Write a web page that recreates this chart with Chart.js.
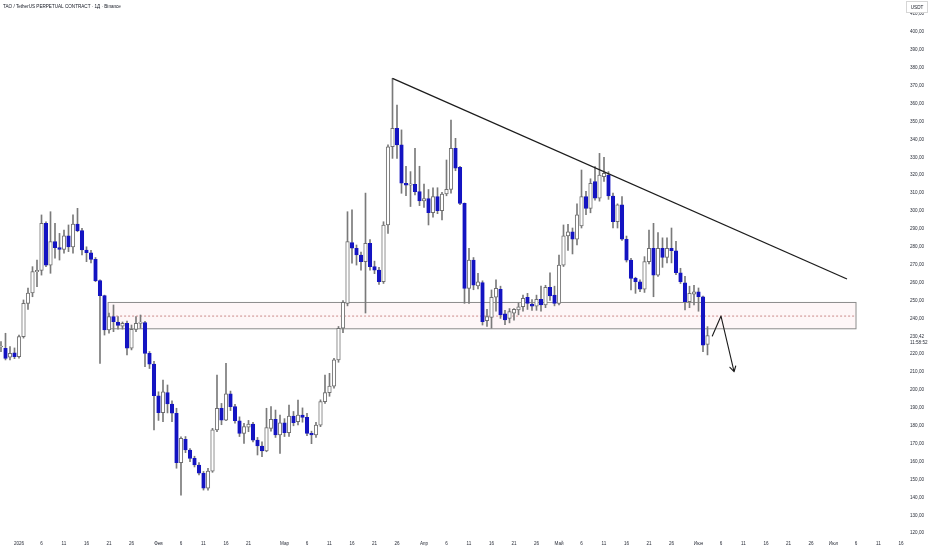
<!DOCTYPE html>
<html>
<head>
<meta charset="utf-8">
<script src="https://cdn.jsdelivr.net/npm/chart.js@4.4.1/dist/chart.umd.min.js"></script>
<style>
  html, body { margin: 0; padding: 0; background: #fff; }
  #wrap { width: 932px; height: 550px; position: relative; }
</style>
</head>
<body>
<div id="wrap"><canvas id="myChart"></canvas></div>
<script>
// day offset from 1 Jan 2026, daily candles
const days = [
  -4, -3, -2, -1, 0, 1, 2, 3, 4, 5, 6, 7, 8, 9, 10, 11, 12, 13, 14, 15,
  16, 17, 18, 19, 20, 21, 22, 23, 24, 25, 26, 27, 28, 29, 30, 31, 32, 33, 34, 35,
  36, 37, 38, 39, 40, 41, 42, 43, 44, 45, 46, 47, 48, 49, 50, 51, 52, 53, 54, 55,
  56, 57, 58, 59, 60, 61, 62, 63, 64, 65, 66, 67, 68, 69, 70, 71, 72, 73, 74, 75,
  76, 77, 78, 79, 80, 81, 82, 83, 84, 85, 86, 87, 88, 89, 90, 91, 92, 93, 94, 95,
  96, 97, 98, 99, 100, 101, 102, 103, 104, 105, 106, 107, 108, 109, 110, 111, 112, 113, 114, 115,
  116, 117, 118, 119, 120, 121, 122, 123, 124, 125, 126, 127, 128, 129, 130, 131, 132, 133, 134, 135,
  136, 137, 138, 139, 140, 141, 142, 143, 144, 145, 146, 147, 148, 149, 150, 151, 152, 153
];
const opens = [
  224.0, 223.3, 218.3, 220.8, 218.6, 229.8, 248.4, 254.2, 266.1, 266.8, 293.1, 269.8, 282.9, 279.5, 278.6, 286.1, 280.0, 292.7, 289.0, 278.2,
  276.7, 273.0, 261.1, 252.7, 233.5, 241.0, 237.9, 235.7, 237.2, 223.3, 233.9, 237.2, 237.6, 220.5, 214.5, 196.8, 187.3, 198.5, 192.2, 187.0,
  159.4, 172.5, 166.5, 161.8, 158.1, 153.5, 145.1, 154.7, 177.7, 189.8, 183.2, 197.8, 190.7, 182.8, 175.8, 179.2, 181.0, 172.0, 168.7, 166.0,
  178.6, 183.6, 174.9, 181.7, 176.1, 185.5, 182.3, 186.0, 184.7, 175.8, 174.9, 180.4, 193.5, 198.5, 202.2, 216.8, 234.5, 248.4, 282.3, 279.2,
  275.4, 271.7, 282.0, 268.9, 267.0, 260.5, 292.2, 335.9, 346.2, 336.9, 315.5, 314.5, 314.9, 310.8, 305.6, 307.0, 299.0, 308.0, 300.2, 309.5,
  312.1, 335.0, 324.4, 304.3, 256.8, 272.6, 258.1, 260.0, 238.7, 240.6, 251.8, 256.3, 242.5, 240.0, 242.9, 244.7, 246.5, 251.8, 248.0, 246.9,
  250.7, 247.5, 257.4, 253.0, 248.4, 269.8, 286.1, 288.4, 284.2, 291.6, 308.0, 301.5, 316.4, 307.1, 319.2, 320.1, 308.4, 294.0, 303.4, 284.2,
  272.6, 262.4, 260.5, 256.3, 271.7, 279.2, 264.2, 279.2, 274.1, 279.2, 277.8, 265.5, 259.9, 249.3, 253.6, 254.9, 252.1, 225.5
];
const highs = [
  227.0, 231.7, 224.2, 223.5, 230.7, 250.3, 257.0, 268.9, 272.6, 297.8, 294.0, 299.6, 293.1, 287.5, 289.4, 292.2, 297.8, 301.5, 290.3, 280.0,
  278.0, 274.0, 261.5, 253.0, 243.0, 247.5, 241.0, 238.0, 238.5, 236.3, 241.0, 241.9, 238.3, 221.5, 216.0, 199.0, 205.6, 202.8, 194.0, 189.8,
  173.9, 174.0, 167.3, 163.0, 159.5, 154.5, 156.3, 178.6, 208.4, 192.5, 214.9, 199.4, 192.0, 185.0, 181.4, 183.0, 182.0, 173.5, 171.0, 189.8,
  190.7, 188.8, 186.0, 184.0, 191.6, 188.0, 194.4, 190.0, 187.0, 177.0, 182.0, 194.5, 208.4, 209.3, 217.7, 235.5, 250.0, 299.6, 300.6, 281.0,
  277.0, 310.0, 284.0, 272.0, 268.5, 294.0, 336.9, 374.1, 359.2, 345.3, 325.0, 322.0, 335.0, 325.0, 315.0, 312.0, 313.0, 313.0, 310.5, 328.5,
  350.8, 340.6, 325.0, 304.5, 279.2, 274.0, 265.2, 261.0, 245.0, 255.9, 261.5, 258.0, 244.5, 245.5, 245.5, 248.6, 253.0, 254.0, 250.5, 253.0,
  258.0, 258.5, 265.5, 258.0, 275.4, 292.2, 292.5, 290.5, 304.0, 322.9, 311.0, 318.0, 324.8, 332.2, 330.0, 322.0, 310.0, 304.0, 308.0, 286.0,
  273.5, 263.0, 261.5, 274.5, 289.4, 293.1, 288.0, 285.0, 285.0, 290.5, 283.0, 268.0, 263.5, 258.0, 258.5, 257.0, 252.5, 235.4
];
const lows = [
  221.4, 216.8, 216.8, 217.5, 217.8, 229.0, 245.0, 252.1, 257.7, 264.2, 268.9, 265.2, 273.6, 272.6, 276.4, 277.3, 276.4, 288.4, 275.4, 271.7,
  271.0, 260.5, 214.9, 230.7, 231.8, 232.6, 234.0, 234.0, 219.6, 222.4, 232.6, 234.5, 213.0, 212.0, 177.7, 183.0, 182.3, 187.2, 182.3, 156.3,
  141.3, 165.0, 160.0, 157.0, 152.5, 144.1, 144.1, 154.0, 176.7, 180.6, 182.8, 188.5, 181.5, 174.0, 170.2, 176.7, 171.0, 163.7, 162.7, 165.5,
  177.0, 173.5, 164.6, 174.0, 174.0, 180.0, 180.5, 182.0, 174.5, 170.0, 173.5, 179.5, 192.5, 196.5, 201.0, 215.5, 232.0, 247.0, 270.8, 269.8,
  267.0, 243.0, 267.0, 265.0, 259.0, 259.5, 287.5, 329.4, 329.4, 309.9, 308.5, 302.5, 309.0, 303.0, 302.0, 292.2, 296.5, 298.5, 295.0, 308.5,
  310.0, 322.5, 303.5, 248.4, 248.4, 256.0, 256.5, 236.3, 235.5, 234.5, 244.0, 240.0, 236.5, 237.5, 239.0, 242.0, 244.0, 245.0, 244.5, 244.5,
  244.0, 246.0, 250.0, 247.0, 247.5, 269.0, 278.0, 276.0, 281.0, 290.5, 298.0, 299.0, 306.0, 305.5, 316.5, 306.5, 290.5, 290.5, 283.5, 271.5,
  255.9, 254.0, 255.0, 254.5, 270.5, 252.1, 263.5, 268.5, 271.0, 271.0, 264.5, 259.5, 244.7, 246.0, 247.5, 244.0, 221.4, 219.6
];
const closes = [
  224.4, 217.7, 220.5, 218.6, 229.8, 248.4, 254.2, 266.1, 266.8, 293.1, 269.8, 282.9, 279.5, 278.6, 286.1, 280.0, 292.7, 289.0, 278.2, 276.7,
  273.0, 261.1, 252.7, 233.5, 241.0, 238.2, 236.1, 237.2, 223.3, 233.9, 237.2, 238.0, 220.5, 214.5, 196.8, 187.3, 199.0, 192.2, 187.0, 159.4,
  173.0, 166.5, 161.8, 158.1, 153.5, 145.1, 154.7, 177.7, 189.8, 183.2, 197.8, 190.7, 182.8, 175.8, 179.5, 181.0, 172.0, 168.7, 166.0, 179.0,
  183.6, 174.9, 181.7, 176.1, 185.5, 181.7, 186.0, 184.7, 175.8, 174.9, 180.4, 193.5, 198.5, 202.2, 216.8, 234.5, 249.0, 282.9, 279.2, 275.4,
  271.7, 282.0, 268.9, 267.0, 260.5, 292.2, 335.9, 346.2, 336.9, 315.5, 314.5, 315.2, 310.8, 305.6, 307.0, 299.0, 308.0, 300.2, 309.5, 312.1,
  335.0, 323.9, 304.3, 256.8, 272.6, 258.6, 260.5, 238.2, 241.0, 251.8, 256.8, 241.9, 239.1, 243.8, 245.0, 246.5, 251.2, 248.4, 246.9, 250.7,
  247.5, 257.4, 252.5, 248.4, 269.8, 286.1, 288.4, 284.2, 297.8, 308.0, 301.5, 315.5, 307.1, 320.1, 321.0, 308.4, 294.0, 303.4, 284.2, 272.6,
  262.4, 260.5, 256.3, 271.7, 279.2, 264.2, 279.2, 274.1, 279.2, 277.8, 265.5, 260.5, 249.3, 254.0, 254.9, 252.1, 225.1, 230.42
];

const lastPrice = 230.42;
const lastTimer = '11:58:52';

// axis ticks
const xTickDays = [0, 5, 10, 15, 20, 25, 31, 36, 41, 46, 51, 59, 64, 69, 74, 79, 84, 90, 95, 100, 105, 110, 115,
  120, 125, 130, 135, 140, 145, 151, 156, 161, 166, 171, 176, 181, 186, 191, 196];
const xTickLabels = ['2026', '6', '11', '16', '21', '26', 'Фев', '6', '11', '16', '21', 'Мар', '6', '11', '16', '21', '26',
  'Апр', '6', '11', '16', '21', '26', 'Май', '6', '11', '16', '21', '26', 'Июн', '6', '11', '16', '21', '26',
  'Июл', '6', '11', '16'];
const yTicks = [120, 130, 140, 150, 160, 170, 180, 190, 200, 210, 220, 230, 240, 250, 260,
  270, 280, 290, 300, 310, 320, 330, 340, 350, 360, 370, 380, 390, 400, 410];

// drawings
const trendDays = [83, 184];
const trendPrices = [374.1, 262.0];
const arrowDays = [154.07, 156, 158.9, 157.98, 158.9, 159.27];
const arrowPrices = [230.2, 241.3, 210.2, 212.7, 210.2, 213.4];
const zoneDays = [19.8, 186];
const zonePrices = [234.2, 241.3, 248.9]; // bottom, mid, top

const BLUE = '#1414c2';
const FONT = 'Liberation Sans';
const fmt = v => v.toFixed(2).replace('.', ',');

const overlay = {
  id: 'overlay',
  beforeDatasetsDraw(chart) {
    const ctx = chart.ctx, xs = chart.scales.x, ys = chart.scales.y;
    const x0 = xs.getPixelForValue(zoneDays[0]), x1 = xs.getPixelForValue(zoneDays[1]);
    const yb = ys.getPixelForValue(zonePrices[0]), ym = ys.getPixelForValue(zonePrices[1]), yt = ys.getPixelForValue(zonePrices[2]);
    ctx.save();
    ctx.fillStyle = 'rgba(242, 54, 69, 0.045)';
    ctx.fillRect(x0, yt, x1 - x0, yb - yt);
    ctx.strokeStyle = '#8c8c8c';
    ctx.lineWidth = 1;
    ctx.strokeRect(x0, yt, x1 - x0, yb - yt);
    ctx.setLineDash([2, 2]);
    ctx.strokeStyle = 'rgba(190, 110, 110, 0.8)';
    ctx.beginPath();
    ctx.moveTo(x0, ym);
    ctx.lineTo(x1, ym);
    ctx.stroke();
    ctx.restore();
  },
  afterDraw(chart) {
    const ctx = chart.ctx, ys = chart.scales.y;
    ctx.save();
    ctx.font = '4.6px "' + FONT + '"';
    ctx.fillStyle = '#131722';
    ctx.textBaseline = 'middle';
    ctx.fillText('TAO / TetherUS PERPETUAL CONTRACT · 1Д · Binance', 3, 7);
    // currency box
    ctx.fillStyle = '#fff';
    ctx.fillRect(906, 1, 22, 12);
    ctx.strokeStyle = '#d6d6d6';
    ctx.strokeRect(906.5, 1.5, 21, 11);
    ctx.fillStyle = '#131722';
    ctx.textAlign = 'center';
    ctx.fillText('USDT', 917, 7.5);
    // last price label
    const yp = ys.getPixelForValue(lastPrice);
    ctx.textAlign = 'left';
    ctx.fillStyle = '#2a2e39';
    ctx.fillText(fmt(lastPrice), 910, yp + 1);
    ctx.fillText(lastTimer, 910, yp + 7.5);
    ctx.restore();
  }
};

const ctx = document.getElementById('myChart');

new Chart(ctx, {
  type: 'bar',
  data: {
    datasets: [
      {
        type: 'line',
        data: trendDays.map((d, i) => ({x: d, y: trendPrices[i]})),
        borderColor: '#1c1c1c',
        borderWidth: 1.3,
        pointRadius: 0,
        order: 0
      },
      {
        type: 'line',
        data: arrowDays.map((d, i) => ({x: d, y: arrowPrices[i]})),
        borderColor: '#1c1c1c',
        borderWidth: 1.1,
        borderJoinStyle: 'round',
        borderCapStyle: 'round',
        pointRadius: 0,
        order: 0
      },
      {
        label: 'body',
        data: days.map((d, i) => ({x: d, y: [opens[i], closes[i]]})),
        backgroundColor: c => closes[c.dataIndex] < opens[c.dataIndex] ? BLUE : '#ffffff',
        borderColor: c => closes[c.dataIndex] < opens[c.dataIndex] ? BLUE : '#707070',
        borderWidth: 1,
        borderSkipped: false,
        barThickness: 3.6,
        minBarLength: 1,
        grouped: false,
        order: 1
      },
      {
        label: 'wick',
        data: days.map((d, i) => ({x: d, y: [lows[i], highs[i]]})),
        backgroundColor: '#7a7a7a',
        borderWidth: 0,
        barThickness: 1,
        grouped: false,
        order: 2
      }
    ]
  },
  options: {
    responsive: true,
    maintainAspectRatio: false,
    animation: false,
    layout: { padding: 0 },
    plugins: {
      legend: { display: false },
      tooltip: { enabled: false },
      title: { display: false }
    },
    scales: {
      x: {
        type: 'linear',
        min: -19 / 4.5,
        max: (903 - 19) / 4.5,
        offset: false,
        grid: { display: false, drawTicks: false },
        border: { display: false },
        ticks: {
          autoSkip: false,
          maxRotation: 0,
          padding: 5,
          color: '#2a2e39',
          font: { family: FONT, size: 4.6 },
          callback: (v, i) => xTickLabels[i]
        },
        afterBuildTicks: s => { s.ticks = xTickDays.map(v => ({value: v})); },
        afterFit: s => { s.height = 14; s.paddingLeft = 0; s.paddingRight = 0; }
      },
      y: {
        type: 'linear',
        position: 'right',
        min: 400 - (536 - 32) / 1.79,
        max: 400 + 32 / 1.79,
        grid: { display: false, drawTicks: false },
        border: { display: false },
        ticks: {
          autoSkip: false,
          padding: 7,
          color: '#2a2e39',
          font: { family: FONT, size: 4.6 },
          callback: (v, i) => yTicks[i] === 230 ? '' : fmt(yTicks[i])
        },
        afterBuildTicks: s => { s.ticks = yTicks.map(v => ({value: v})); },
        afterFit: s => { s.width = 29; s.paddingTop = 0; s.paddingBottom = 0; }
      }
    }
  },
  plugins: [overlay]
});
</script>
</body>
</html>
